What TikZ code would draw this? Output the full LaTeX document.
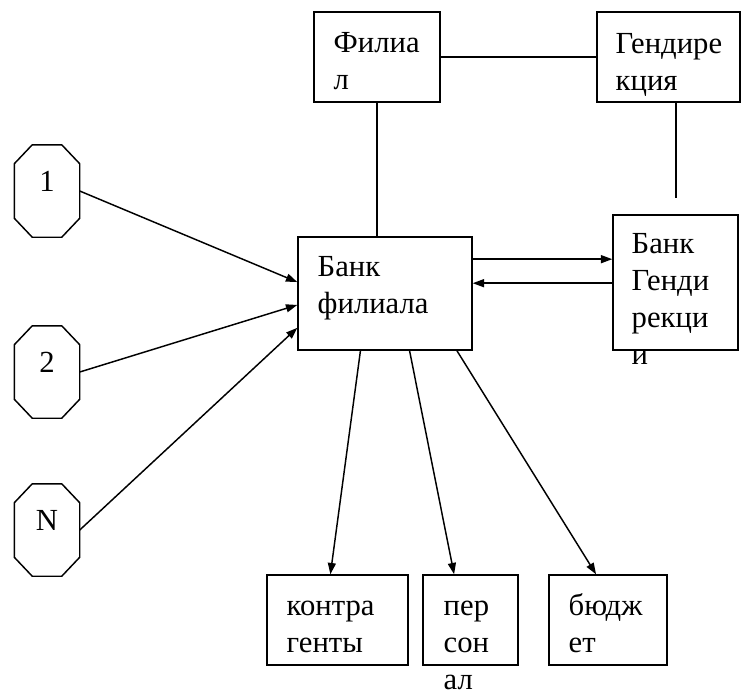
\documentclass[tikz,border=0pt]{standalone}
\usepackage{fontspec}
\setmainfont{Liberation Serif}
\usetikzlibrary{arrows.meta}
\usetikzlibrary{fit}
\usetikzlibrary{calc}

% lines of a box text, first baseline at the anchor
\newcommand{\boxlines}[1]{\begin{tabular}[t]{@{}l@{}}#1\end{tabular}}
% octagon round a named node, corners cut by #2 across and #3 down
\newcommand{\octagon}[3]{
    \draw ([xshift=#2]#1.north west) -- ([xshift=-#2]#1.north east)
        -- ([yshift=-#3]#1.north east) -- ([yshift=#3]#1.south east)
        -- ([xshift=-#2]#1.south east) -- ([xshift=#2]#1.south west)
        -- ([yshift=#3]#1.south west) -- ([yshift=-#3]#1.north west) -- cycle;
}

\begin{document}
\begin{tikzpicture}[x=0.75pt, y=-0.75pt, >={Triangle[length=8.5pt,width=6pt]}, line width=1.1pt,
    every node/.style={font=\fontsize{23}{27.75}\selectfont},
    box/.style={draw, rectangle, inner sep=0pt},
    octa/.style={rectangle, inner sep=0pt},
    txt/.style={anchor=base west, inner sep=0pt}]

\useasboundingbox (0,0) rectangle (742,694);

% upper boxes
\node[box, fit={(314,12) (440,102)}] (fil) {};
\node[box, fit={(597,12) (740,102)}] (gd) {};
\node[box, fit={(298,237) (472,350)}] (bf) {};
\node[box, fit={(613,215) (738,350)}] (bg) {};

% lower boxes
\node[box, fit={(267,575) (408,665)}] (ka) {};
\node[box, fit={(423,575) (518,665)}] (pe) {};
\node[box, fit={(549,575) (667,665)}] (bu) {};

% texts run past the boxes, as in the original
\node[txt] (filt) at (333,52) {\boxlines{Филиа\\л}};
\node[txt] (gdt) at (615,53) {\boxlines{Гендире\\кция}};
\node[txt] (bft) at (317,276) {\boxlines{Банк\\филиала}};
\node[txt] (bgt) at (631,253) {\boxlines{Банк\\Генди\\рекци\\и}};
\node[txt] (kat) at (286,615) {\boxlines{контра\\генты}};
\node[txt] (pet) at (443,615) {\boxlines{пер\\сон\\ал}};
\node[txt] (but) at (568,615) {\boxlines{бюдж\\ет}};

\draw (fil.east) -- (gd.west);
\draw (fil.south) -- (fil.south |- bf.north);
\coordinate (gdend) at (676,198);
\draw (gdend |- gd.south) -- (gdend);

\coordinate (r1) at ($(bf.north east)!0.2!(bf.south east)$);
\coordinate (r2) at ($(bf.north east)!0.41!(bf.south east)$);
\draw[->] (r1) -- (r1 -| bg.west);
\draw[->] (r2 -| bg.west) -- (r2);

% sources
\foreach \lab/\y/\f in {1/191/0.4, 2/372/0.6, N/530/0.8} {
    \node[octa, fit={(15,\y-45.5) (79,\y+45.5)}] (o\lab) {\lab};
    \octagon{o\lab}{13.5pt}{14.25pt}
    \draw[->] (o\lab.east) -- ($(bf.north west)!\f!(bf.south west)$);
}

\foreach \t/\a/\b in {ka/0.36/0.45, pe/0.64/0.33, bu/0.91/0.4}
    \draw[->] ($(bf.south west)!\a!(bf.south east)$) -- ($(\t.north west)!\b!(\t.north east)$);

\end{tikzpicture}
\end{document}
